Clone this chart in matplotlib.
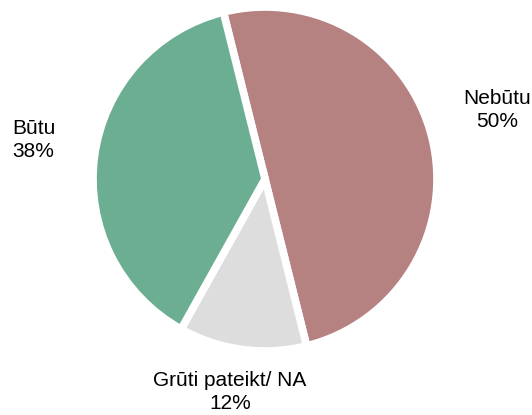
import matplotlib.pyplot as plt

plt.rcParams['font.family'] = ['Liberation Sans', 'DejaVu Sans']

labels = ['Nebūtu', 'Grūti pateikt/ NA', 'Būtu']
shares = [50, 12, 38]
colors = ['#b58181', '#dddddd', '#6cae91']

W, H = 532, 415
fig = plt.figure(figsize=(W / 100, H / 100), dpi=100)
ax = fig.add_axes([0, 0, 1, 1])

# pixel geometry of the pie
cx, cy, rpx = 265, 179, 172
ax.pie(shares, colors=colors, startangle=104, counterclock=False,
       radius=1, wedgeprops=dict(edgecolor='white', linewidth=5.5))
ax.set_xlim(-cx / rpx, (W - cx) / rpx)
ax.set_ylim(-(H - cy) / rpx, cy / rpx)
ax.set_aspect('equal')
ax.axis('off')

fs = 15
fig.text(12 / W, 1 - 140 / H, 'Būtu\n38%', ha='left', va='center',
         fontsize=fs, linespacing=1.25)
fig.text(497 / W, 1 - 110 / H, 'Nebūtu\n50%', ha='center', va='center',
         fontsize=fs, linespacing=1.25)
fig.text(230 / W, 1 - 392 / H, 'Grūti pateikt/ NA\n12%', ha='center',
         va='center', fontsize=fs, linespacing=1.25)

plt.savefig('out.png', dpi=100)
